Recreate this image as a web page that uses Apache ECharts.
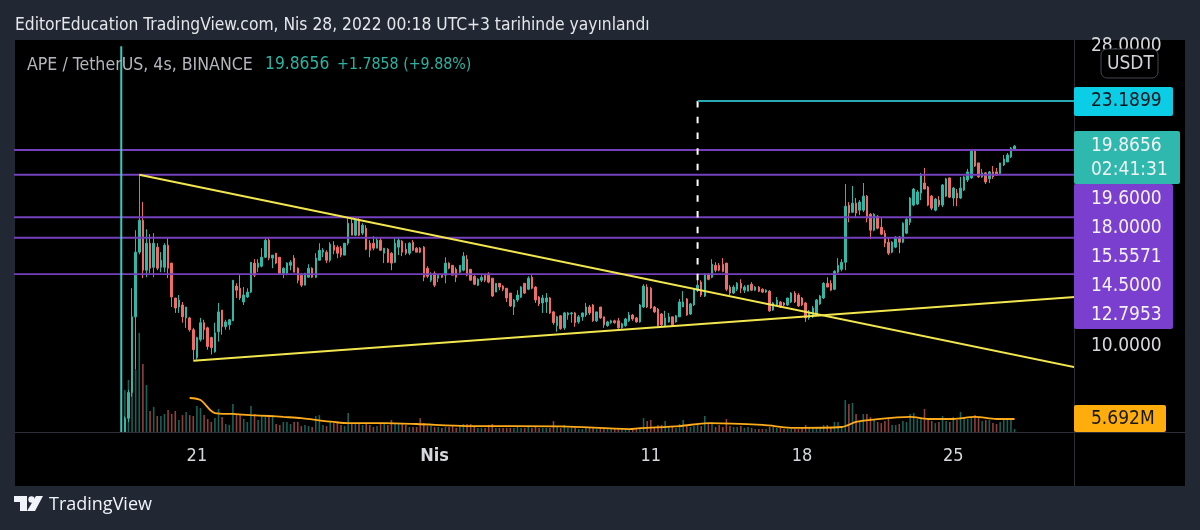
<!DOCTYPE html>
<html>
<head>
<meta charset="utf-8">
<script src="https://cdn.jsdelivr.net/npm/echarts@6/dist/echarts.min.js"></script>
<style>
  html, body { margin: 0; padding: 0; background: #212733; }
  #main { width: 1200px; height: 530px; }
</style>
</head>
<body>
<div id="main"></div>
<script>
// 4h candles, APE / TetherUS
var barOpen = [
  7.44,7.80,8.52,11.05,13.80,15.40,12.97,14.23,13.10,14.04,
  13.10,13.10,14.13,13.29,11.79,11.43,11.51,11.01,11.01,10.57,
  9.61,10.22,10.83,10.64,10.29,9.80,10.50,11.31,10.68,10.75,
  10.90,12.28,12.19,11.63,11.83,12.03,13.29,13.10,13.15,13.56,
  14.38,13.52,13.75,13.56,12.84,12.84,13.19,13.52,13.06,12.75,
  12.32,12.66,13.06,12.66,13.42,13.80,13.80,13.42,14.13,14.04,
  13.99,13.66,14.23,15.24,14.63,15.40,14.73,14.98,14.23,14.23,
  13.99,14.38,13.75,13.94,13.75,13.33,14.04,14.33,13.94,13.75,
  14.28,13.99,13.99,14.04,13.06,12.53,12.84,12.62,12.75,12.75,
  13.29,13.19,13.01,12.88,12.97,13.47,13.01,12.70,12.32,12.53,
  12.75,12.75,12.62,12.03,12.40,12.28,12.19,11.99,11.43,11.71,
  11.83,12.40,12.15,12.66,12.24,11.83,11.59,11.63,11.79,11.24,
  10.72,11.09,10.64,11.12,11.16,11.20,10.86,11.05,11.12,11.43,
  11.51,10.90,11.43,11.05,10.72,10.83,10.90,10.90,10.64,10.72,
  10.90,11.12,11.01,10.86,11.43,12.24,12.19,11.43,11.35,11.16,
  10.72,10.86,11.05,10.86,11.05,11.43,11.75,11.16,11.51,12.11,
  12.45,11.87,12.79,12.66,13.19,13.19,13.24,13.29,12.24,11.99,
  12.15,12.40,12.11,12.07,12.36,12.11,12.24,12.15,12.03,12.07,
  11.31,11.51,11.63,11.59,11.51,11.63,11.99,11.91,11.79,11.59,
  11.01,11.05,11.12,11.55,11.79,12.40,12.40,12.15,12.88,13.01,
  13.33,16.22,15.83,16.33,15.94,15.94,16.73,15.72,14.88,15.61,
  15.03,14.73,14.28,13.80,14.04,14.53,14.28,14.73,15.29,16.22,
  16.28,16.91,17.50,17.26,16.73,15.94,16.50,16.22,16.73,17.81,
  16.62,16.91,16.62,17.08,17.68,17.81,19.53,18.75,17.87,18.12,
  17.75,18.18,18.18,18.06,18.62,18.81,19.14,19.67
];
var barClose = [
  7.80,8.52,11.05,13.80,15.40,12.97,14.23,13.06,14.23,13.06,
  13.42,14.13,13.06,11.83,11.39,11.71,11.05,11.43,10.57,9.87,
  10.29,10.83,10.57,9.98,9.94,10.46,11.24,10.68,10.86,10.94,
  12.53,12.11,11.79,11.91,12.03,13.33,12.75,13.29,13.56,14.38,
  13.52,13.66,13.29,12.84,13.06,13.29,13.33,12.88,12.53,12.32,
  12.84,13.06,12.66,13.52,13.89,13.89,13.42,14.18,13.89,13.75,
  13.66,14.23,15.24,14.63,15.40,14.63,15.14,13.94,13.89,13.99,
  14.38,13.89,13.99,13.33,13.29,14.23,14.38,13.80,13.75,14.23,
  13.89,13.80,13.80,12.66,12.70,12.79,12.32,12.75,12.66,13.29,
  13.06,12.75,12.66,13.19,13.61,12.75,12.53,12.36,12.57,12.66,
  12.53,12.45,11.87,12.40,12.24,12.15,11.79,11.47,11.71,11.91,
  12.24,11.99,12.62,12.19,11.71,11.55,11.79,11.79,11.20,10.83,
  11.05,10.61,11.20,11.20,11.20,10.83,11.05,11.20,11.43,11.20,
  10.90,11.24,11.01,10.75,10.86,10.90,10.83,10.64,10.79,10.97,
  11.12,10.97,10.86,11.51,12.28,11.43,11.39,11.24,10.72,10.75,
  11.01,11.05,10.75,11.09,11.63,11.63,11.12,11.55,12.15,12.32,
  11.91,12.79,12.57,13.24,12.97,12.97,12.92,12.15,11.99,12.24,
  12.40,12.19,12.24,12.32,12.11,12.24,12.07,12.03,12.11,11.28,
  11.59,11.71,11.43,11.51,11.79,11.99,11.63,11.47,11.51,11.01,
  11.24,11.39,11.71,11.87,12.40,12.24,12.11,12.92,13.19,13.33,
  16.16,15.78,16.33,15.78,16.39,16.73,15.51,14.88,15.72,14.98,
  14.68,14.23,13.75,14.28,14.53,14.28,15.24,15.45,16.62,17.14,
  16.97,18.00,17.14,16.22,16.05,16.56,16.22,17.38,17.75,16.67,
  17.20,16.62,17.20,17.87,18.18,19.53,18.55,17.87,18.12,17.56,
  18.18,17.87,18.00,18.75,19.00,19.27,19.73,19.87
];
var barLow = [
  7.44,7.70,8.40,9.22,13.70,12.62,12.66,12.84,12.66,12.97,
  12.88,12.88,12.62,11.43,11.20,11.20,10.83,10.64,10.50,9.54,
  9.54,10.15,10.22,9.87,9.71,9.77,10.15,10.39,10.57,10.57,
  10.90,11.79,11.71,11.51,11.79,11.99,12.66,12.88,13.10,13.52,
  13.42,13.06,13.24,12.79,12.62,12.75,12.97,12.88,12.40,12.24,
  12.32,12.66,12.62,12.62,13.42,13.56,13.29,13.33,13.70,13.52,
  13.56,13.66,14.13,14.63,14.58,14.58,14.63,13.89,13.56,13.89,
  13.99,13.85,13.29,13.29,12.97,13.29,13.66,13.61,13.66,13.66,
  13.85,13.80,13.75,12.49,12.62,12.45,12.24,12.45,12.62,12.40,
  13.01,12.75,12.45,12.84,12.92,12.70,12.53,12.32,12.28,12.45,
  12.45,12.40,11.83,12.03,12.11,12.07,11.63,11.43,11.12,11.63,
  11.79,11.95,12.11,12.15,11.59,11.47,11.20,11.20,11.16,10.75,
  10.50,10.57,10.57,10.94,10.83,10.68,10.79,10.90,11.05,11.12,
  10.86,10.86,10.97,10.64,10.68,10.79,10.79,10.61,10.61,10.68,
  10.86,10.90,10.83,10.83,11.39,11.39,11.35,11.20,10.68,10.68,
  10.68,10.83,10.68,10.83,11.05,11.43,11.09,11.12,11.47,12.03,
  11.83,11.83,12.53,12.62,12.88,12.92,12.88,12.07,11.91,11.95,
  12.07,11.99,11.99,12.07,12.07,12.07,12.03,11.99,11.99,11.24,
  11.28,11.47,11.39,11.47,11.47,11.59,11.59,11.43,11.47,10.86,
  10.94,11.01,11.09,11.51,11.75,12.24,12.07,12.11,12.84,12.92,
  12.97,15.29,15.78,15.56,15.67,15.83,15.29,14.43,14.83,14.93,
  14.63,14.04,13.66,13.75,13.99,13.75,14.23,14.68,15.14,16.16,
  16.22,16.50,17.14,16.16,15.94,15.88,16.11,16.11,16.67,16.62,
  16.16,16.16,16.56,17.02,17.56,17.75,18.49,17.81,17.81,17.44,
  17.50,17.75,17.93,18.00,18.55,18.81,19.07,19.60
];
var barHigh = [
  7.85,8.60,12.19,14.88,18.00,16.39,14.93,14.68,14.73,14.23,
  13.80,14.23,14.48,13.29,11.79,11.91,11.63,11.43,11.05,10.64,
  10.32,11.01,10.94,10.68,10.32,10.83,11.59,11.31,10.94,10.97,
  12.53,12.40,12.75,12.24,12.19,13.33,13.47,13.47,13.99,14.48,
  14.48,13.66,13.75,13.56,13.10,13.33,13.42,13.66,13.10,12.84,
  12.84,13.24,13.10,13.75,14.23,13.99,13.89,14.28,14.33,14.13,
  14.09,14.23,15.51,15.51,15.45,15.51,15.24,15.14,14.38,14.58,
  14.53,14.48,13.99,13.99,13.80,14.48,14.53,14.38,14.23,14.28,
  14.38,14.04,14.04,14.09,13.15,12.88,12.92,12.79,12.79,13.56,
  13.33,13.19,13.10,13.19,13.80,13.66,13.01,12.75,12.62,12.75,
  12.79,12.88,12.62,12.40,12.40,12.32,12.19,11.99,11.75,12.11,
  12.28,12.40,12.70,12.75,12.28,11.87,11.91,11.99,11.83,11.28,
  11.09,11.12,11.24,11.24,11.24,11.24,11.12,11.20,11.59,11.51,
  11.55,11.24,11.43,11.05,10.90,10.94,10.94,11.01,10.83,11.01,
  11.24,11.16,11.05,11.55,12.36,12.36,12.24,11.47,11.39,11.20,
  11.28,11.20,11.05,11.12,11.75,12.07,11.79,11.59,12.19,12.62,
  12.53,12.84,12.84,13.47,13.33,13.29,13.52,13.29,12.32,12.32,
  12.45,12.57,12.32,12.32,12.45,12.28,12.28,12.19,12.15,12.11,
  11.63,11.83,11.67,11.63,11.79,12.03,12.07,11.99,11.83,11.63,
  11.31,11.47,11.75,11.91,12.45,12.66,12.53,12.97,13.52,13.47,
  17.44,16.39,17.32,16.62,16.50,17.50,16.79,15.78,15.78,15.67,
  15.51,14.88,14.53,14.33,14.58,14.58,15.29,15.51,16.67,17.20,
  17.08,18.12,18.43,17.32,16.79,16.62,16.73,17.44,17.81,17.81,
  17.26,17.14,17.87,17.93,18.37,19.60,19.60,18.75,18.37,18.18,
  18.24,18.55,18.43,18.75,19.27,19.40,19.80,19.93
];
// volume in millions
var barVolume = [
  18.4,22.8,26.3,27.2,43.4,29.8,20.6,9.2,11.0,7.0,
  7.0,7.9,9.6,7.9,9.2,5.3,7.4,8.8,7.4,7.0,
  11.4,10.5,7.4,5.7,4.4,6.1,10.1,6.6,3.5,3.1,
  12.3,7.4,7.9,5.7,4.4,11.4,7.9,5.3,7.0,6.6,
  7.0,7.4,3.5,3.1,4.4,4.4,3.5,4.4,4.4,2.6,
  3.1,2.6,2.2,7.0,7.4,3.1,2.6,4.4,3.9,3.9,
  3.1,2.6,8.3,3.9,3.5,3.5,3.1,3.5,3.1,2.2,
  2.6,3.5,3.5,3.1,5.3,3.5,3.5,3.9,3.1,2.2,
  2.2,2.2,6.1,3.9,2.6,2.6,2.2,2.2,1.8,2.2,
  2.2,2.6,1.8,2.6,3.5,3.5,3.5,2.2,1.8,1.8,
  1.8,3.1,3.5,1.8,1.8,1.8,1.8,1.8,1.8,2.2,
  1.8,1.8,2.2,1.8,2.2,1.8,1.8,1.8,1.8,4.8,
  2.2,1.8,3.1,1.8,1.8,1.8,1.3,1.3,1.8,1.8,
  1.8,1.3,1.8,1.3,1.3,1.3,1.3,1.3,1.3,1.3,
  1.3,1.3,1.3,1.3,6.1,4.8,5.3,2.2,3.1,3.1,
  4.8,2.6,2.2,1.8,3.5,5.3,2.6,2.2,2.6,3.9,
  2.6,7.0,3.5,4.4,2.2,3.1,2.2,5.7,2.6,2.2,
  2.2,2.6,1.8,2.2,1.8,1.3,1.3,1.3,1.3,2.2,
  2.2,1.8,1.8,1.3,1.3,1.3,1.3,1.3,1.8,3.1,
  1.8,1.8,1.8,1.8,3.1,3.1,1.8,4.4,4.4,2.2,
  14.0,12.3,12.7,7.9,4.4,7.9,7.9,6.6,5.3,4.4,
  3.9,4.8,5.7,3.1,3.1,3.5,4.8,4.4,7.9,8.3,
  5.7,5.7,10.1,5.3,4.8,3.9,4.4,7.0,4.8,4.4,
  6.6,5.3,8.8,6.1,5.7,6.1,7.4,6.6,4.8,5.3,
  5.3,3.9,3.5,4.4,5.3,5.3,5.3,1.3
];
// volume moving average, read at the bars where it bends
var maBars = [18,21,25,30,35,40,44,49,53,58,62,72,81,95,121,140,143,154,162,177,186,199,203,207,218,223,230,236,242,247];
var maValues = [14.9,14.0,8.3,7.9,7.4,7.0,6.6,6.1,5.3,4.4,3.9,3.9,3.5,2.6,2.5,1.3,1.7,2.6,3.9,3.1,1.8,2.2,4.4,5.3,6.6,5.7,5.7,6.6,5.7,5.69];

var levelPrices = [19.6, 18.0, 15.5571, 14.5, 12.7953];
var targetPrice = 23.1899;
var priceTicks = [28, 10];
var tickLabels = { '2022-03-21 00': '21', '2022-04-01 00': 'Nis', '2022-04-11 00': '11', '2022-04-18 00': '18', '2022-04-25 00': '25' };

// slots on the time axis: empty ones before the first bar and after the last
var leadSlots = 30;
var tailSlots = 16;
var slotCount = leadSlots + barOpen.length + tailSlots;
var categories = [];
for (var s = 0; s < slotCount; s++) {
  var t = new Date(Date.UTC(2022, 2, 12, 16) + s * 4 * 3600 * 1000);
  categories.push(t.toISOString().slice(0, 13).replace('T', ' '));
}
var lastSlot = slotCount; // one past the end, lines get clipped at the axis

var upColor = '#2fb8a8';
var downColor = '#f06c68';
var font = '"DejaVu Sans Condensed", "DejaVu Sans", sans-serif';

var myChart = echarts.init(document.getElementById('main'));

function segment(name, points, color, width, type) {
  return {
    name: name,
    type: 'line',
    data: points,
    symbol: 'none',
    silent: true,
    clip: true,
    z: 5,
    lineStyle: { color: color, width: width, type: type || 'solid' }
  };
}

var series = [
  {
    name: 'Volume',
    type: 'bar',
    xAxisIndex: 0,
    yAxisIndex: 1,
    barWidth: 1.6,
    z: 1,
    data: barVolume.map(function (v, i) {
      return {
        value: [categories[i + leadSlots], v],
        itemStyle: { color: barClose[i] >= barOpen[i] ? 'rgba(43,179,163,0.55)' : 'rgba(238,106,102,0.6)' }
      };
    })
  },
  {
    name: 'APE / TetherUS',
    type: 'candlestick',
    barWidth: 2,
    clip: true,
    z: 3,
    encode: { x: 0, y: [1, 2, 3, 4] },
    data: barOpen.map(function (o, i) {
      return [categories[i + leadSlots], o, barClose[i], barLow[i], barHigh[i]];
    }),
    itemStyle: { color: upColor, color0: downColor, borderColor: upColor, borderColor0: downColor, borderWidth: 1 }
  },
  {
    name: 'Volume MA',
    type: 'line',
    xAxisIndex: 0,
    yAxisIndex: 1,
    symbol: 'none',
    z: 6,
    smooth: 0.3,
    lineStyle: { color: '#ffab1a', width: 1.8 },
    data: maBars.map(function (b, i) { return [categories[b + leadSlots], maValues[i]]; })
  }
];

levelPrices.forEach(function (p, i) {
  series.push(segment('level' + i, [[-1, p], [lastSlot, p]], '#7440bd', 1.9));
});
series.push(segment('trend down', [[leadSlots + 4, 18.0], [lastSlot, 9.29]], '#f2e64e', 2));
series.push(segment('trend up', [[leadSlots + 19, 9.5], [lastSlot, 11.83]], '#f2e64e', 2));
series.push(segment('launch', [[leadSlots - 1, 28], [leadSlots - 1, 7.44]], '#3cc8bd', 2));
series.push(segment('target drop', [[189, targetPrice], [189, 12.11]], '#ffffff', 2, [6.5, 9.2]));
series.push(segment('target', [[189, targetPrice], [lastSlot, targetPrice]], '#2aa8b4', 2));

// right hand price tags and page furniture
var panelBg = '#000000';
function tag(x, y, w, h, fill) {
  return { type: 'rect', z: 10, shape: { x: x, y: y, width: w, height: h, r: 2 }, style: { fill: fill } };
}
function tagText(x, y, text, color) {
  return { type: 'text', z: 11, style: { x: x, y: y, text: text, fill: color || '#f2f2f2', font: '19px ' + font, textVerticalAlign: 'middle' } };
}
function rule(x1, y1, x2, y2) {
  return { type: 'line', z: 9, shape: { x1: x1, y1: y1, x2: x2, y2: y2 }, style: { stroke: '#2b2f38', lineWidth: 1 } };
}

var graphics = [
  { type: 'rect', z: -10, shape: { x: 15, y: 40, width: 1170, height: 446 }, style: { fill: panelBg } },
  rule(1074.5, 40, 1074.5, 486),
  rule(15, 432.5, 1185, 432.5),
  { type: 'text', z: 11, style: { x: 15, y: 26, text: 'EditorEducation TradingView.com, Nis 28, 2022 00:18 UTC+3 tarihinde yayınlandı', fill: '#e4e6ea', font: '17.3px ' + font, textVerticalAlign: 'middle' } },
  { type: 'text', z: 11, style: { x: 27, y: 65, text: 'APE / TetherUS, 4s, BINANCE', fill: '#b4b6bc', font: '17.6px ' + font, textVerticalAlign: 'middle' } },
  { type: 'text', z: 11, style: { x: 265, y: 65, text: '19.8656', fill: '#2bb3a3', font: '17.3px ' + font, textVerticalAlign: 'middle' } },
  { type: 'text', z: 11, style: { x: 337, y: 65, text: '+1.7858 (+9.88%)', fill: '#2bb3a3', font: '15.8px ' + font, textVerticalAlign: 'middle' } },
  { type: 'rect', z: 10, shape: { x: 1101, y: 49, width: 57, height: 29, r: 6 }, style: { fill: '#000000', stroke: '#44474f', lineWidth: 1 } },
  tagText(1107, 64, 'USDT', '#d0d2d6'),
  tag(1074, 87, 99, 29, '#0bcde6'),
  tagText(1091, 101, '23.1899', '#10141c'),
  tag(1074, 184, 99, 145, '#7b3fd0'),
  tagText(1091, 199, '19.6000'),
  tagText(1091, 228, '18.0000'),
  tagText(1091, 257, '15.5571'),
  tagText(1091, 286, '14.5000'),
  tagText(1091, 315, '12.7953'),
  tag(1074, 131, 106, 53, '#2fb8ad'),
  tagText(1091, 146, '19.8656'),
  tagText(1091, 170, '02:41:31'),
  tag(1074, 405, 92, 27, '#ffac0d'),
  tagText(1091, 419, '5.692M', '#15181f'),
  // TradingView mark
  { type: 'polygon', z: 11, shape: { points: [[14, 496], [27, 496], [27, 511], [20, 511], [20, 502], [14, 502]] }, style: { fill: '#f0f3fa' } },
  { type: 'circle', z: 11, shape: { cx: 31.5, cy: 499.5, r: 3.2 }, style: { fill: '#f0f3fa' } },
  { type: 'polygon', z: 11, shape: { points: [[36, 496], [43, 496], [35, 511], [27, 511]] }, style: { fill: '#f0f3fa' } },
  { type: 'text', z: 11, style: { x: 49, y: 505, text: 'TradingView', fill: '#f0f3fa', font: '18px "Open Sans", sans-serif', textVerticalAlign: 'middle' } }
];

var option = {
  animation: false,
  backgroundColor: 'transparent',
  grid: { left: 15, top: 40, width: 1059, height: 392, containLabel: false },
  xAxis: {
    type: 'category',
    data: categories,
    boundaryGap: true,
    axisLine: { show: false },
    axisTick: { show: false },
    splitLine: { show: false },
    axisLabel: {
      interval: function (index, value) { return tickLabels[value] !== undefined; },
      formatter: function (value) { return value === '2022-04-01 00' ? '{b|Nis}' : tickLabels[value]; },
      rich: { b: { fontWeight: 'bold', color: '#d6d8dc', fontSize: 18, fontFamily: font } },
      color: '#d6d8dc',
      fontSize: 18,
      fontFamily: font,
      margin: 15
    }
  },
  yAxis: [
    {
      type: 'log',
      logBase: Math.E,
      min: 7.44,
      max: 28.6,
      position: 'right',
      splitLine: { show: false },
      minorSplitLine: { show: false },
      axisLine: { show: false },
      axisTick: { show: false },
      axisLabel: {
        customValues: priceTicks,
        formatter: function (v) { return Number(v).toFixed(4); },
        color: '#d6d8dc',
        fontSize: 19,
        fontFamily: font,
        margin: 17,
        showMinLabel: true,
        showMaxLabel: true
      }
    },
    {
      type: 'value',
      min: 0,
      max: 171.7,
      show: false,
      splitLine: { show: false }
    }
  ],
  graphic: graphics,
  series: series
};

myChart.setOption(option);
</script>
</body>
</html>
